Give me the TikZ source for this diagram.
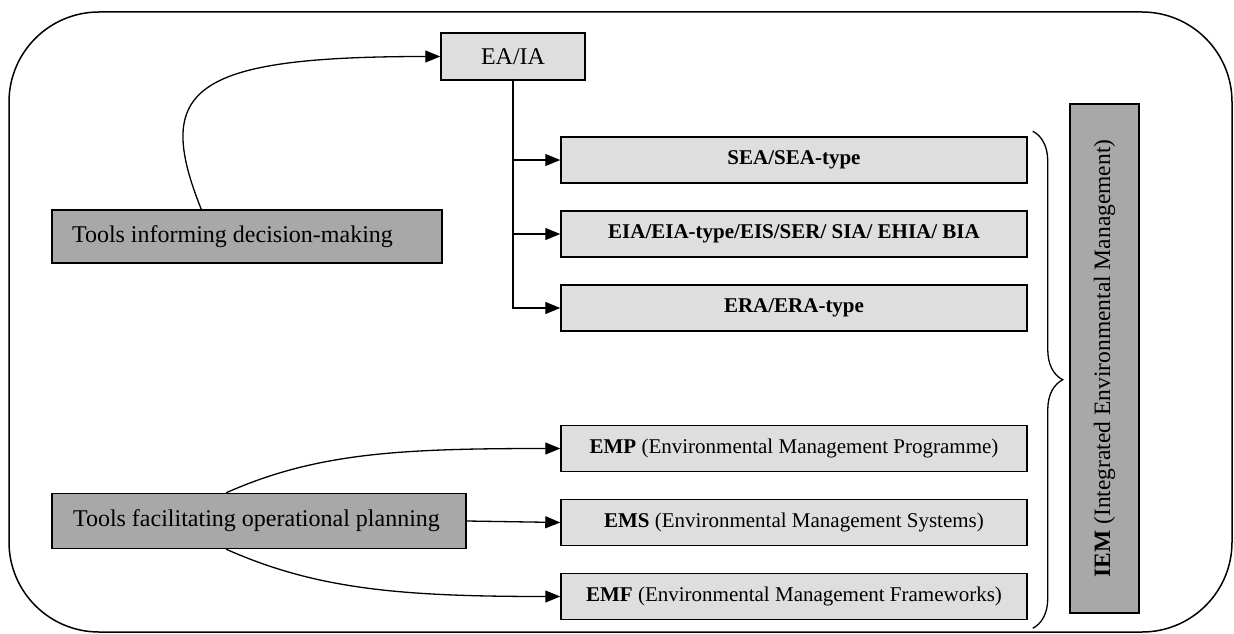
\documentclass[tikz,border=0pt]{standalone}
\usepackage{fontspec}
\setmainfont{Liberation Serif}
\usepackage{tikz}
\usetikzlibrary{positioning,arrows.meta,calc,decorations.pathreplacing}
\definecolor{boxlight}{RGB}{222,222,222}
\definecolor{boxdark}{RGB}{168,168,168}

\begin{document}
\begin{tikzpicture}[x=1pt,y=-1pt,
  big/.style={font=\fontsize{24}{28}\selectfont},
  lbox/.style={draw,line width=1.5pt,fill=boxlight,minimum width=466pt,minimum height=46pt,
    inner sep=0pt,font=\fontsize{21}{25}\selectfont},
  dbox/.style={draw,line width=1.5pt,fill=boxdark,inner sep=0pt,big},
  arr/.style={-{Triangle[length=15pt,width=12pt]},line width=1.3pt}]
\useasboundingbox (0,0) rectangle (1234,634);
% outer frame
\draw[line width=1.5pt,rounded corners=90pt] (9,12) rectangle (1232,632);
% top group
\node[draw,line width=1.5pt,fill=boxlight,minimum width=144pt,minimum height=47pt,big] (eaia) at (513,56.5) {EA/IA};
\node[lbox] (sea) at (794,160) {\textbf{SEA/SEA-type}};
\node[lbox,below=26.5pt of sea] (eia) {\textbf{EIA/EIA-type/EIS/SER/ SIA/ EHIA/ BIA}};
\node[lbox,below=26.5pt of eia] (era) {\textbf{ERA/ERA-type}};
% bottom group
\node[lbox] (emp) at (794,448.5) {\textbf{EMP} (Environmental Management Programme)};
\node[lbox,below=26.5pt of emp] (ems) {\textbf{EMS} (Environmental Management Systems)};
\node[lbox,below=26.5pt of ems] (emf) {\textbf{EMF} (Environmental Management Frameworks)};
% tool boxes
\node[dbox,minimum width=390pt,minimum height=53pt,text width=350pt,align=flush left] (tid) at (247,236.5) {Tools informing decision-making};
\node[dbox,minimum width=414pt,minimum height=55pt,text width=372pt,align=flush left] (tfo) at (259,521) {Tools facilitating operational planning};
\node[dbox,rotate=90,minimum width=509pt,minimum height=69pt,font=\fontsize{23.5}{28}\selectfont] (iem) at (1104.5,358.5) {\textbf{IEM} (Integrated Environmental Management)};

\draw[arr] ($(tid.north west)+(150,0)$) .. controls +(-48,-120) and +(-250,0) .. (eaia.west);
\draw[arr] (eaia.south) |- (era.west);
\draw[arr] (eaia.south |- sea.west) -- (sea.west);
\draw[arr] (eaia.south |- eia.west) -- (eia.west);

\draw[arr] ($(tfo.north west)+(175,0)$) .. controls +(90,-40) and +(-160,0) .. (emp.west);
\draw[arr] (tfo.east) -- (ems.west);
\draw[arr] ($(tfo.south west)+(175,0)$) .. controls +(90,40) and +(-160,0) .. (emf.west);

\draw[line width=1.3pt,decorate,decoration={brace,amplitude=30pt}]
  ($(sea.north east)+(5,-5)$) -- ($(emf.south east)+(5,8)$);
\end{tikzpicture}
\end{document}
